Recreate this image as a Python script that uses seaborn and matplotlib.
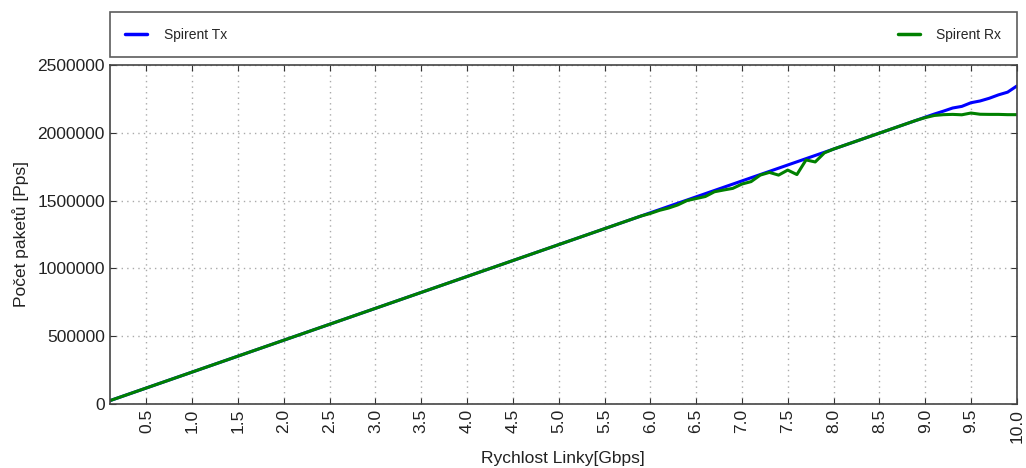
import numpy as np
import pandas as pd
import matplotlib
matplotlib.use("Agg")
import matplotlib.pyplot as plt
import seaborn as sns

# Link speed in Gbps (0.1 .. 10.0)
rychlost = [round(0.1 * k, 1) for k in range(1, 101)]

# Packets per second sent by the generator
spirent_tx = [
    23500, 47000, 70500, 94000, 117500, 141000, 164500, 188000, 211500, 235000,
    258500, 282000, 305500, 329000, 352500, 376000, 399500, 423000, 446500, 470000,
    493500, 517000, 540500, 564000, 587500, 611000, 634500, 658000, 681500, 705000,
    728500, 752000, 775500, 799000, 822500, 846000, 869500, 893000, 916500, 940000,
    963500, 987000, 1010500, 1034000, 1057500, 1081000, 1104500, 1128000, 1151500, 1175000,
    1198500, 1222000, 1245500, 1269000, 1292500, 1316000, 1339500, 1363000, 1386500, 1410000,
    1433500, 1457000, 1480500, 1504000, 1527500, 1551000, 1574500, 1598000, 1621500, 1645000,
    1668500, 1692000, 1715500, 1739000, 1762500, 1786000, 1809500, 1833000, 1856500, 1880000,
    1903500, 1927000, 1950500, 1974000, 1997500, 2021000, 2044500, 2068000, 2091500, 2115000,
    2138500, 2160000, 2183000, 2195000, 2222000, 2235000, 2255000, 2280000, 2300000, 2345000,
]

# Packets per second received back
spirent_rx = [
    23500, 47000, 70500, 94000, 117500, 141000, 164500, 188000, 211500, 235000,
    258500, 282000, 305500, 329000, 352500, 376000, 399500, 423000, 446500, 470000,
    493500, 517000, 540500, 564000, 587500, 611000, 634500, 658000, 681500, 705000,
    728500, 752000, 775500, 799000, 822500, 846000, 869500, 893000, 916500, 940000,
    963500, 987000, 1010500, 1034000, 1057500, 1081000, 1104500, 1128000, 1151500, 1175000,
    1198500, 1222000, 1245500, 1269000, 1292500, 1316000, 1339500, 1363000, 1386500, 1405000,
    1428000, 1445000, 1468000, 1500000, 1515000, 1530000, 1565000, 1578000, 1590000, 1622000,
    1640000, 1688000, 1708000, 1688000, 1725000, 1692000, 1800000, 1785000, 1852000, 1880000,
    1903500, 1927000, 1950500, 1974000, 1997500, 2021000, 2044500, 2068000, 2091500, 2112000,
    2128000, 2134000, 2136000, 2133000, 2146000, 2137000, 2136000, 2136000, 2134000, 2134000,
]

series_names = ["Spirent Tx", "Spirent Rx"]
series_colors = ["#0000ff", "#008000"]

x_ticks = [0.5, 1.0, 1.5, 2.0, 2.5, 3.0, 3.5, 4.0, 4.5, 5.0,
           5.5, 6.0, 6.5, 7.0, 7.5, 8.0, 8.5, 9.0, 9.5, 10.0]
y_ticks = [0, 500000, 1000000, 1500000, 2000000, 2500000]

sns.set_style("ticks")
plt.rcParams["font.family"] = ["Liberation Sans", "DejaVu Sans"]

df = pd.DataFrame({
    "Rychlost": rychlost * 2,
    "Pps": spirent_tx + spirent_rx,
    "Serie": [series_names[0]] * len(rychlost) + [series_names[1]] * len(rychlost),
})

fig = plt.figure(figsize=(10.26, 4.68), dpi=100)
ax = fig.add_axes([0.107, 0.137, 0.884, 0.724])

sns.lineplot(data=df, x="Rychlost", y="Pps", hue="Serie",
             hue_order=series_names, palette=series_colors,
             linewidth=2.2, ax=ax, legend=True)

ax.set_xlim(0.1, 10.0)
ax.set_ylim(0, 2500000)
ax.set_xticks(x_ticks)
ax.set_xticklabels([f"{t:.1f}" for t in x_ticks], rotation=90)
ax.set_yticks(y_ticks)
ax.set_yticklabels([str(t) for t in y_ticks])
ax.tick_params(direction="in", top=True, right=True, length=4,
               labelsize=12.5, colors="#333333", labelcolor="#222222")
ax.grid(True, linestyle=(0, (1, 3)), color="#aaaaaa", linewidth=1.0)
for s in ax.spines.values():
    s.set_visible(True)
    s.set_color("#444444")
    s.set_linewidth(1.2)

ax.set_xlabel("Rychlost Linky[Gbps]", fontsize=12.5, color="#222222", labelpad=6)
ax.set_ylabel("Počet paketů [Pps]", fontsize=12.5, color="#222222", labelpad=6)

handles, labels = ax.get_legend_handles_labels()
leg = ax.legend(handles, labels, bbox_to_anchor=(0.0, 1.024, 1.0, 0.127),
                loc="lower left", ncol=2, mode="expand", borderaxespad=0.0,
                fancybox=False, fontsize=10, handlelength=1.6,
                handletextpad=1.2, borderpad=1.1, frameon=True)
leg.get_frame().set_edgecolor("#333333")
leg.get_frame().set_linewidth(1.2)
for line in leg.get_lines():
    line.set_linewidth(2.5)

fig.savefig("out.png", dpi=100)
